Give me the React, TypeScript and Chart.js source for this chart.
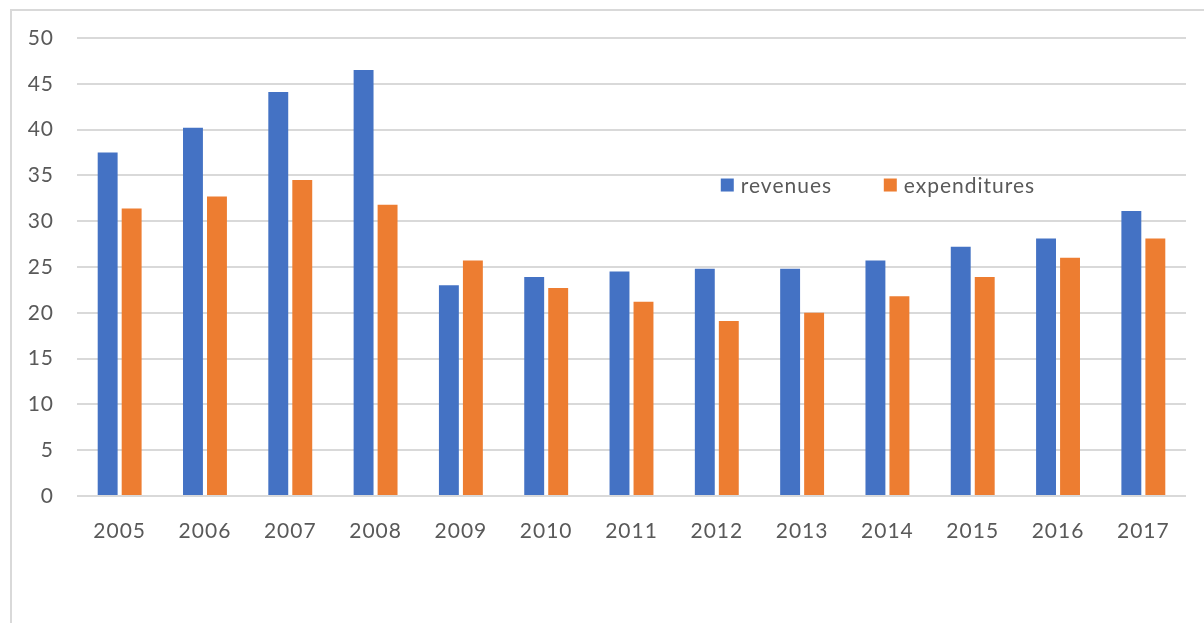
import React, { useEffect, useRef } from "react";
import { Chart, registerables } from "chart.js";

Chart.register(...registerables);

const years = ["2005", "2006", "2007", "2008", "2009", "2010", "2011", "2012", "2013", "2014", "2015", "2016", "2017"];
const revenues = [37.5, 40.2, 44.1, 46.5, 23.0, 23.9, 24.5, 24.8, 24.8, 25.7, 27.2, 28.1, 31.1];
const expenditures = [31.4, 32.7, 34.5, 31.8, 25.7, 22.7, 21.2, 19.1, 20.0, 21.8, 23.9, 26.0, 28.1];
const yTicks = [0, 5, 10, 15, 20, 25, 30, 35, 40, 45, 50];

const BLUE = "#4472C4";
const ORANGE = "#ED7D31";
const TEXT = "#595959";
const FONT = "Lato, 'Open Sans', sans-serif";

const spacing = {
  id: "spacing",
  beforeDraw(chart: any) {
    chart.ctx.letterSpacing = "1px";
  },
};

const innerLegend = {
  id: "innerLegend",
  afterDraw(chart: any) {
    const { ctx, chartArea } = chart;
    const w = chartArea.right - chartArea.left;
    const h = chartArea.bottom - chartArea.top;
    const items = chart.data.datasets.map((d: any, i: number) => ({
      label: d.label,
      color: d.backgroundColor,
      x: chartArea.left + w * (i === 0 ? 0.5805 : 0.7275),
    }));
    const cy = chartArea.top + h * 0.321;
    ctx.save();
    ctx.letterSpacing = "1px";
    ctx.font = `21px ${FONT}`;
    ctx.textBaseline = "middle";
    ctx.textAlign = "left";
    items.forEach((it: any) => {
      ctx.fillStyle = it.color;
      ctx.fillRect(it.x, cy - 6.5, 13, 13);
      ctx.fillStyle = TEXT;
      ctx.fillText(it.label, it.x + 20, cy + 1);
    });
    ctx.restore();
  },
};

export default function App() {
  const ref = useRef<HTMLCanvasElement>(null);
  useEffect(() => {
    if (!ref.current) return;
    const chart = new Chart(ref.current, {
      type: "bar",
      data: {
        labels: years,
        datasets: [
          { label: "revenues", data: revenues, backgroundColor: BLUE },
          { label: "expenditures", data: expenditures, backgroundColor: ORANGE },
        ],
      },
      options: {
        animation: false,
        responsive: false,
        events: [],
        layout: { padding: { top: 38, right: 18, bottom: 0, left: 0 } },
        datasets: { bar: { categoryPercentage: 0.5625, barPercentage: 0.83 } },
        plugins: { legend: { display: false }, tooltip: { enabled: false } },
        scales: {
          x: {
            grid: { display: false, drawTicks: false },
            border: { display: false },
            ticks: { color: TEXT, font: { family: FONT, size: 21 }, padding: 23, maxRotation: 0 },
            afterFit(scale: any) { scale.height = 127; },
          },
          y: {
            min: 0,
            max: 50,
            afterBuildTicks(scale: any) { scale.ticks = yTicks.map((v) => ({ value: v })); },
            grid: { color: "#d9d9d9", lineWidth: 2, drawTicks: false },
            border: { display: false },
            ticks: { color: TEXT, font: { family: FONT, size: 21 }, padding: 23 },
            afterFit(scale: any) { scale.width = 77; },
          },
        },
      },
      plugins: [spacing, innerLegend],
    });
    return () => chart.destroy();
  }, []);
  return (
    <div style={{ position: "absolute", left: 0, top: 0, width: 1204, height: 623, background: "#fff" }}>
      <div style={{ position: "absolute", left: 10, top: 9, right: 0, bottom: 0, borderTop: "2px solid #d9d9d9", borderLeft: "2px solid #d9d9d9" }} />
      <canvas ref={ref} width={1204} height={623} style={{ position: "absolute", left: 0, top: 0 }} />
    </div>
  );
}
